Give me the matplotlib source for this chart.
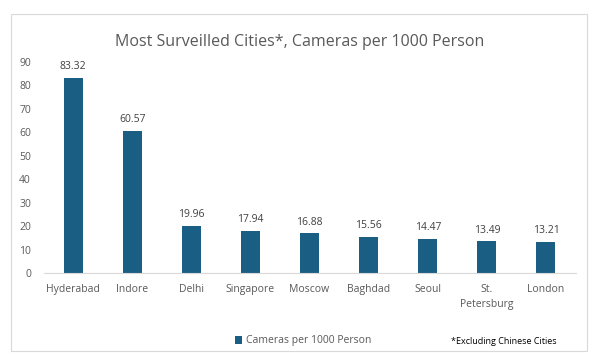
import numpy as np
import matplotlib.pyplot as plt
from matplotlib.patches import Rectangle

cities = ['Hyderabad', 'Indore', 'Delhi', 'Singapore', 'Moscow', 'Baghdad',
          'Seoul', 'St.\nPetersburg', 'London']
cameras = [83.32, 60.57, 19.96, 17.94, 16.88, 15.56, 14.47, 13.49, 13.21]

plt.rcParams['font.family'] = ['Open Sans', 'DejaVu Sans']
txt = '#595959'
bar_color = '#1a5e83'

fig = plt.figure(figsize=(5.99, 3.59), dpi=100)
fig.patches.append(Rectangle((11 / 599, 1 - 351 / 359), 576 / 599, 337 / 359,
                             transform=fig.transFigure, fill=False,
                             edgecolor='#d9d9d9', linewidth=0.8))

ax = fig.add_axes([43.5 / 599, 1 - 273 / 359, 532 / 599, 211 / 359])
x = np.arange(len(cities))
bars = ax.bar(x, cameras, width=0.32, color=bar_color, label='Cameras per 1000 Person')
for xi, v in zip(x, cameras):
    ax.text(xi, v + 2.5, f'{v:.2f}', ha='center', va='bottom', fontsize=7.5, color='#404040')

ax.set_ylim(0, 90)
ax.set_xlim(-0.5, len(cities) - 0.5)
ax.set_yticks(range(0, 91, 10))
ax.set_xticks(x)
ax.set_xticklabels(cities, fontsize=7.5, color=txt, linespacing=1.5)
ax.tick_params(axis='y', labelsize=7.5, labelcolor=txt, length=0, pad=9)
ax.tick_params(axis='x', length=0, pad=8)
for s in ['top', 'right', 'left']:
    ax.spines[s].set_visible(False)
ax.spines['bottom'].set_color('#d9d9d9')

fig.text(0.5, 1 - 42 / 359, 'Most Surveilled Cities*, Cameras per 1000 Person',
         ha='center', va='center', fontsize=11.5, color=txt)
fig.legend(handles=[bars], loc='center', bbox_to_anchor=(303 / 599, 1 - 341 / 359),
           frameon=False, fontsize=7.5, labelcolor=txt, handlelength=0.7,
           handleheight=0.7, handletextpad=0.4)
fig.text(451 / 599, 1 - 341 / 359, '*Excluding Chinese Cities', ha='left', va='center',
         fontsize=6.5, color='black')

fig.savefig('out.png', dpi=100)
